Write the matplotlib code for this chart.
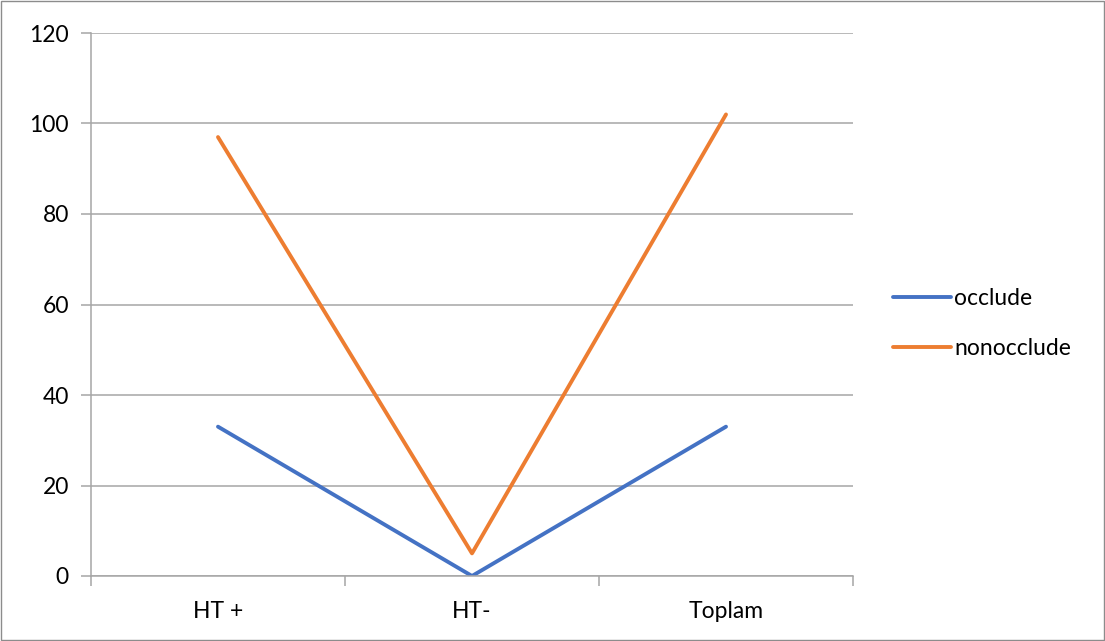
import matplotlib
matplotlib.use("Agg")
import matplotlib.pyplot as plt
from matplotlib.patches import Rectangle

# Data
categories = ["HT +", "HT-", "Toplam"]
occlude = [33, 0, 33]
nonocclude = [97, 5, 102]

plt.rcParams['font.family'] = ['Lato', 'DejaVu Sans']

fig = plt.figure(figsize=(11.05, 6.41), dpi=100)
ax = fig.add_axes([91 / 1105, 65 / 641, 762 / 1105, 543 / 641])

x = list(range(len(categories)))
ax.plot(x, occlude, color='#4472C4', linewidth=2.8, solid_capstyle='round',
        solid_joinstyle='round', label='occlude')
ax.plot(x, nonocclude, color='#ED7D31', linewidth=2.8, solid_capstyle='round',
        solid_joinstyle='round', label='nonocclude')

ax.set_xlim(-0.5, len(categories) - 0.5)
ax.set_ylim(0, 120)
ax.set_yticks(range(0, 121, 20))
ax.set_xticks(x)
ax.set_xticklabels(categories)
ax.set_xticks([i - 0.5 for i in range(len(categories) + 1)], minor=True)

grid_c = '#A6A6A6'
fs = 16.5
ax.yaxis.grid(True, color=grid_c, linewidth=1.1)
ax.set_axisbelow(True)
for s in ['top', 'right']:
    ax.spines[s].set_visible(False)
ax.spines['left'].set_color(grid_c)
ax.spines['bottom'].set_color(grid_c)
ax.spines['left'].set_linewidth(1.1)
ax.spines['bottom'].set_linewidth(1.1)

ax.tick_params(axis='y', length=7, color=grid_c, width=1.1, labelsize=fs, pad=9)
ax.tick_params(axis='x', which='major', length=0, labelsize=fs, pad=18)
ax.tick_params(axis='x', which='minor', length=7, color=grid_c, width=1.1)

leg = ax.legend(loc='center left', bbox_to_anchor=(1.026, 0.465), frameon=False,
                fontsize=fs, handlelength=2.5, handletextpad=0.15, labelspacing=1.25)

# Outer border
fig.patches.append(Rectangle((0.001, 0.001), 0.998, 0.998, transform=fig.transFigure,
                             fill=False, edgecolor='#8C8C8C', linewidth=1.0))

fig.savefig("out.png", dpi=100)
